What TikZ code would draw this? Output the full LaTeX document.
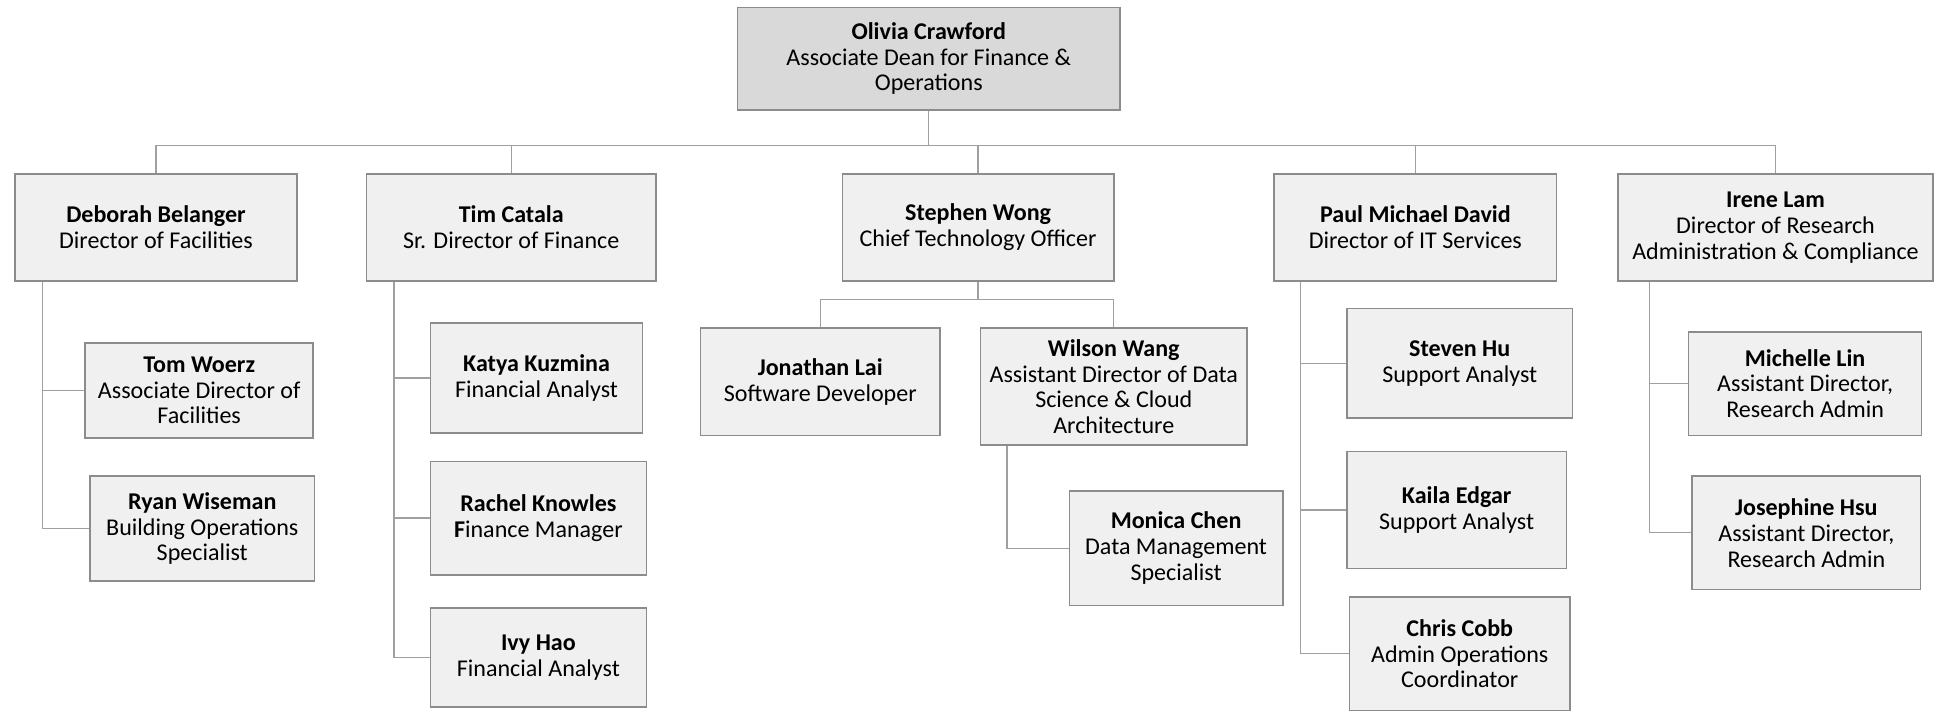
\documentclass[tikz,border=0pt]{standalone}
\usepackage{fontspec}
\setmainfont{Carlito}
\definecolor{boxfill}{HTML}{F0F0F0}
\definecolor{topfill}{HTML}{D9D9D9}
\definecolor{boxline}{HTML}{8C8C8C}
\definecolor{linkline}{HTML}{A0A0A0}
\newcommand{\who}[2]{{\bfseries #1}\\#2}
\tikzset{
    box/.style={draw=boxline, line width=1.3pt, fill=boxfill, align=center, inner sep=0pt,
        font=\fontsize{19.5}{21}\selectfont},
    link/.style={draw=linkline, line width=1pt}
}
\begin{document}
\begin{tikzpicture}[x=1pt, y=-1pt]
        \useasboundingbox (0,0) rectangle (1568,576.5);

        % Vertice
        \node[box, fill=topfill, minimum width=310pt, minimum height=83pt] (olivia) at (753,47.5)
            {\who{Olivia Crawford}{Associate Dean for Finance \&\\Operations}};

        % Secondo livello
        \node[box, minimum width=229pt, minimum height=87pt] (deborah) at (126.5,184.5)
            {\who{Deborah Belanger}{Director of Facilities}};
        \node[box, minimum width=235pt, minimum height=87pt] (tim) at (414.5,184.5)
            {\who{Tim Catala}{Sr. Director of Finance}};
        \node[box, minimum width=220pt, minimum height=87pt] (stephen) at (793,184.5)
            {\who{Stephen Wong}{Chief Technology Officer}};
        \node[box, minimum width=229pt, minimum height=87pt] (paul) at (1147.5,184.5)
            {\who{Paul Michael David}{Director of IT Services}};
        \node[box, minimum width=255pt, minimum height=87pt] (irene) at (1439.5,184.5)
            {\who{Irene Lam}{Director of Research\\Administration \& Compliance}};

        % Facilities
        \node[box, minimum width=185pt, minimum height=77pt] (tom) at (161.5,316.5)
            {\who{Tom Woerz}{Associate Director of\\Facilities}};
        \node[box, minimum width=182pt, minimum height=85pt] (ryan) at (164,428.5)
            {\who{Ryan Wiseman}{Building Operations\\Specialist}};

        % Finance
        \node[box, minimum width=172pt, minimum height=89pt] (katya) at (435,306.5)
            {\who{Katya Kuzmina}{Financial Analyst}};
        \node[box, minimum width=175pt, minimum height=92pt] (rachel) at (436.5,420)
            {\who{Rachel Knowles}{\textbf{F}inance Manager}};
        \node[box, minimum width=175pt, minimum height=80pt] (ivy) at (436.5,533)
            {\who{Ivy Hao}{Financial Analyst}};

        % Technology
        \node[box, minimum width=194pt, minimum height=87pt] (jonathan) at (665,309.5)
            {\who{Jonathan Lai}{Software Developer}};
        \node[box, minimum width=216pt, minimum height=95pt] (wilson) at (903,313.5)
            {\who{Wilson Wang}{Assistant Director of Data\\Science \& Cloud\\Architecture}};
        \node[box, minimum width=173pt, minimum height=93pt] (monica) at (953.5,444.5)
            {\who{Monica Chen}{Data Management\\Specialist}};

        % IT Services
        \node[box, minimum width=183pt, minimum height=89pt] (steven) at (1183.5,294.5)
            {\who{Steven Hu}{Support Analyst}};
        \node[box, minimum width=178pt, minimum height=95pt] (kaila) at (1181,413.5)
            {\who{Kaila Edgar}{Support Analyst}};
        \node[box, minimum width=179pt, minimum height=92pt] (chris) at (1183.5,530)
            {\who{Chris Cobb}{Admin Operations\\Coordinator}};

        % Research
        \node[box, minimum width=189pt, minimum height=84pt] (michelle) at (1463.5,311)
            {\who{Michelle Lin}{Assistant Director,\\Research Admin}};
        \node[box, minimum width=185pt, minimum height=92pt] (josephine) at (1464.5,432)
            {\who{Josephine Hsu}{Assistant Director,\\Research Admin}};

        % Collegamenti
        \path (olivia.south) ++(0,28) coordinate (bus);
        \draw[link] (olivia.south) -- (bus);
        \foreach \n in {deborah,tim,stephen,paul,irene}
            \draw[link] (\n.north) |- (bus);

        \path (stephen.south) ++(0,14) coordinate (sbus);
        \draw[link] (stephen.south) -- (sbus);
        \draw[link] (jonathan.north) |- (sbus);
        \draw[link] (wilson.north) |- (sbus);

        \foreach \n in {tom,ryan}
            \draw[link] ([xshift=23pt]deborah.south west) |- (\n.west);
        \foreach \n in {katya,rachel,ivy}
            \draw[link] ([xshift=23pt]tim.south west) |- (\n.west);
        \draw[link] ([xshift=22pt]wilson.south west) |- (monica.west);
        \foreach \n in {steven,kaila,chris}
            \draw[link] ([xshift=22pt]paul.south west) |- (\n.west);
        \foreach \n in {michelle,josephine}
            \draw[link] ([xshift=26pt]irene.south west) |- (\n.west);
    \end{tikzpicture}
\end{document}
